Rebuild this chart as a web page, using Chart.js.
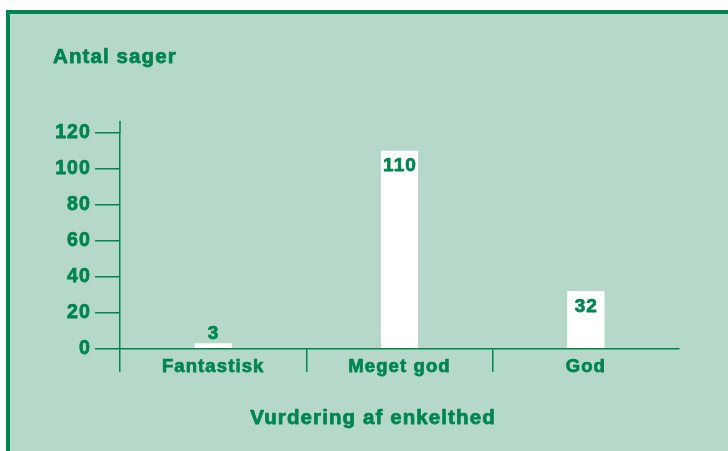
<!DOCTYPE html>
<html>
<head>
<meta charset="utf-8">
<script src="https://cdn.jsdelivr.net/npm/chart.js@4/dist/chart.umd.min.js"></script>
<style>
  html, body { margin: 0; padding: 0; background: #ffffff; overflow: hidden; }
  #frame { position: absolute; left: 6px; top: 10px; width: 760px; height: 480px;
           background: #b5d8c8; border-top: 4px solid #00854f; border-left: 4px solid #00854f; }
  #c { position: absolute; left: 0; top: 0; }
</style>
</head>
<body>
<div id="frame"></div>
<canvas id="c" width="728" height="451"></canvas>
<script>
const categories = ['Fantastisk', 'Meget god', 'God'];
const values = [3, 110, 32];
const yTickValues = [0, 20, 40, 60, 80, 100, 120];
const yTitle = 'Antal sager';
const xTitle = 'Vurdering af enkelthed';

const GREEN = '#00854f';
const FONT = '"Liberation Sans", Arial, Helvetica, sans-serif';
const SPACING = '1.1px';
const STROKE = 0.75;

function heavyText(ctx, txt, x, y) {
  ctx.lineWidth = STROKE;
  ctx.lineJoin = 'round';
  ctx.strokeStyle = GREEN;
  ctx.strokeText(txt, x, y);
  ctx.fillText(txt, x, y);
}

const decor = {
  id: 'decor',
  beforeDraw(chart) {
    chart.ctx.letterSpacing = SPACING;
  },
  afterDraw(chart) {
    const ctx = chart.ctx;
    const ca = chart.chartArea;
    ctx.save();
    ctx.letterSpacing = SPACING;
    // y-axis extension above the top tick
    ctx.strokeStyle = GREEN;
    ctx.lineWidth = 1.5;
    ctx.beginPath();
    ctx.moveTo(ca.left, ca.top);
    ctx.lineTo(ca.left, ca.top - 12);
    ctx.stroke();

    // value labels
    ctx.fillStyle = GREEN;
    ctx.font = 'bold 19px ' + FONT;
    ctx.textAlign = 'center';
    ctx.textBaseline = 'alphabetic';
    const meta = chart.getDatasetMeta(0);
    meta.data.forEach((bar, i) => {
      const h = bar.base - bar.y;
      const txt = String(values[i]);
      if (h > 26) {
        heavyText(ctx, txt, bar.x + 0.5, bar.y + 20.5);
      } else {
        heavyText(ctx, txt, bar.x + 0.5, bar.y - 4.5);
      }
    });

    // titles
    ctx.font = 'bold 20.5px ' + FONT;
    ctx.textAlign = 'left';
    heavyText(ctx, yTitle, 53, 62.5);
    ctx.textAlign = 'center';
    heavyText(ctx, xTitle, 373, 423.5);
    ctx.restore();
  }
};

new Chart(document.getElementById('c'), {
  type: 'bar',
  data: {
    labels: categories,
    datasets: [{
      data: values,
      backgroundColor: '#ffffff',
      borderWidth: 0,
      categoryPercentage: 1.0,
      barPercentage: 0.2
    }]
  },
  options: {
    responsive: false,
    animation: false,
    layout: { padding: { top: 132.7, right: 49, bottom: 72.3, left: 0 } },
    plugins: { legend: { display: false }, tooltip: { enabled: false }, title: { display: false } },
    scales: {
      x: {
        offset: true,
        grid: {
          offset: true,
          drawOnChartArea: false,
          drawTicks: true,
          tickLength: 23,
          lineWidth: 1.5,
          color: (c) => (c.type === 'tick' ? GREEN : 'rgba(0,0,0,0)')
        },
        border: { display: true, color: GREEN, width: 1.5 },
        ticks: {
          color: GREEN,
          textStrokeColor: GREEN,
          textStrokeWidth: STROKE,
          font: { family: FONT, size: 18.5, weight: 'bold' },
          padding: -15.5,
          maxRotation: 0,
          autoSkip: false
        },
        afterFit: (s) => { s.height = 30; }
      },
      y: {
        min: yTickValues[0],
        max: yTickValues[yTickValues.length - 1],
        afterBuildTicks: (s) => { s.ticks = yTickValues.map(v => ({ value: v })); },
        grid: {
          drawOnChartArea: false,
          drawTicks: true,
          tickLength: 25,
          lineWidth: 1.5,
          color: GREEN
        },
        border: { display: true, color: GREEN, width: 1.5 },
        ticks: {
          color: GREEN,
          textStrokeColor: GREEN,
          textStrokeWidth: STROKE,
          font: { family: FONT, size: 19.5, weight: 'bold' },
          padding: 4
        },
        afterFit: (s) => { s.width = 120; }
      }
    }
  },
  plugins: [decor]
});
</script>
</body>
</html>
